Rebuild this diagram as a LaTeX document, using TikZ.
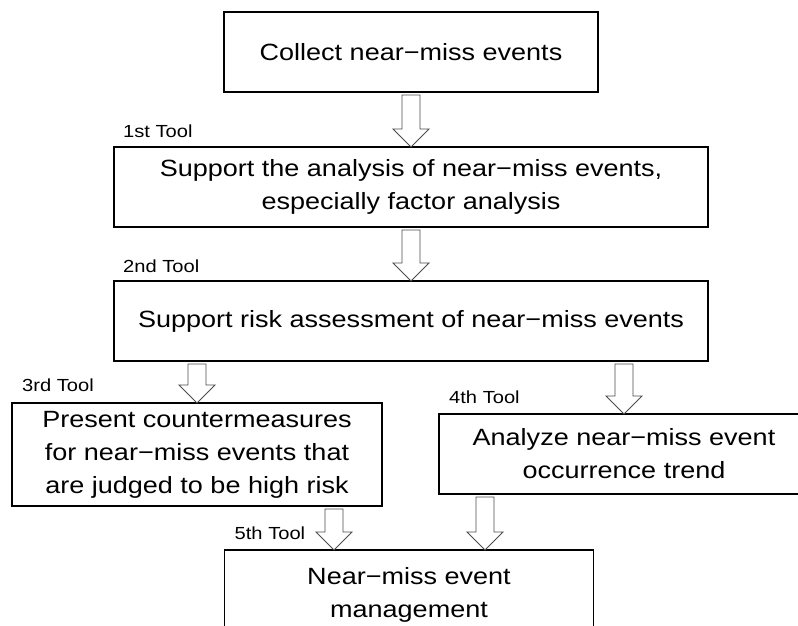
\documentclass[tikz,border=0pt]{standalone}
\usepackage{fontspec}
\setmainfont{Liberation Sans}[FakeStretch=1.15]
\usepackage{tikz}
\usetikzlibrary{positioning,calc}

% seta larga (contorno) de um ponto ate outro
\newcommand{\blockarrow}[2]{%
  \draw[barrow] let \p1=(#1), \p2=(#2) in
    (\x1-9pt,\y1-3pt) -- (\x1+9pt,\y1-3pt) -- (\x1+9pt,\y2+18pt) -- (\x1+18pt,\y2+18pt)
    -- (\x1,\y2) -- (\x1-18pt,\y2+18pt) -- (\x1-9pt,\y2+18pt) -- cycle;}

\begin{document}
\begin{tikzpicture}[
    x=1pt, y=-1pt,
    box/.style={draw, rectangle, line width=1.8pt, outer sep=0pt, inner sep=0pt, align=center, font=\fontsize{23.5}{33}\selectfont},
    tool/.style={anchor=base west, inner sep=0pt, font=\fontsize{17.5}{20}\selectfont},
    barrow/.style={draw=black!70, fill=white, line width=0.8pt, line join=miter}
]
    \useasboundingbox (0,0) rectangle (798,625);

    % Caixas do fluxo
    \node (collect) [box, minimum width=374pt, minimum height=80pt] at (411,52) {Collect near−miss events};
    \node (analysis) [box, minimum width=594pt, minimum height=80pt, below=55pt of collect] {Support the analysis of near−miss events,\\especially factor analysis};
    \node (risk) [box, minimum width=594pt, minimum height=80pt, below=54pt of analysis] {Support risk assessment of near−miss events};
    \node (counter) [box, minimum width=370pt, minimum height=103pt, below=42pt of risk, xshift=-214pt] {Present countermeasures\\for near−miss events that\\are judged to be high risk};
    \node (trend) [box, minimum width=370pt, minimum height=80pt, below=53pt of risk, xshift=213pt] {Analyze near−miss event\\occurrence trend};
    \node (manage) [box, minimum width=369pt, minimum height=90pt, below=44pt of counter, xshift=212pt] {Near−miss event\\management};

    % Rotulos das ferramentas
    \node (tool1) [tool] at ([xshift=9pt, yshift=10pt]analysis.north west) {1st Tool};
    \node (tool2) [tool] at ([xshift=9pt, yshift=9pt]risk.north west) {2nd Tool};
    \node (tool3) [tool] at ([xshift=10pt, yshift=12pt]counter.north west) {3rd Tool};
    \node (tool4) [tool] at ([xshift=10pt, yshift=11pt]trend.north west) {4th Tool};
    \node (tool5) [tool] at ([xshift=10pt, yshift=11pt]manage.north west) {5th Tool};

    % Setas
    \blockarrow{collect.south}{analysis.north}
    \blockarrow{analysis.south}{risk.north}
    \blockarrow{counter.north |- risk.south}{counter.north}
    \blockarrow{trend.north |- risk.south}{trend.north}
    \blockarrow{[xshift=-75pt]manage.north |- counter.south}{manage.north}
    \blockarrow{[xshift=76pt]manage.north |- trend.south}{manage.north}

\end{tikzpicture}
\end{document}
